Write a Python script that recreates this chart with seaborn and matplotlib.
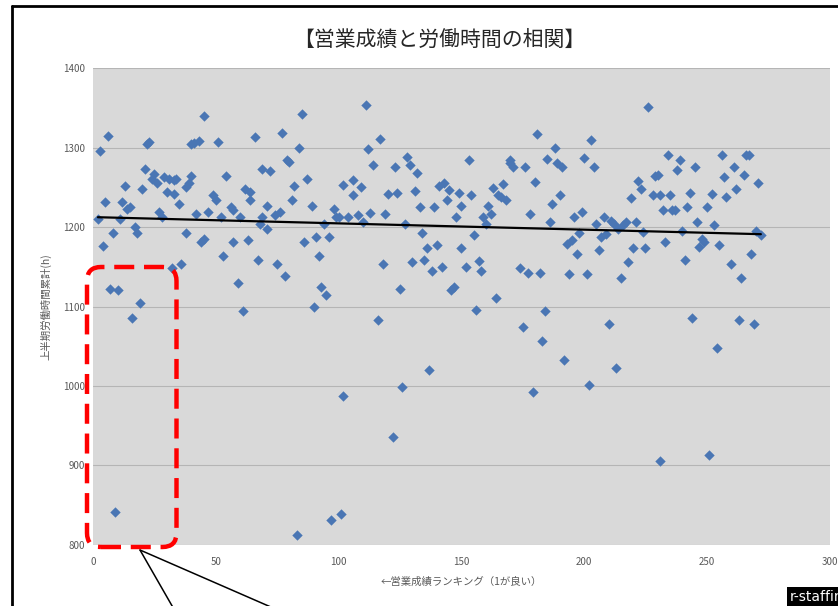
import pandas as pd
import seaborn as sns
import matplotlib.pyplot as plt
from matplotlib.patches import FancyBboxPatch
from matplotlib.lines import Line2D

# ranking (1 = best) and hours worked in the first half year
rank = [2, 3, 6, 5, 4, 8, 7, 10, 9, 11, 12, 13, 14, 15, 16, 19, 18, 17, 20, 21,
        22, 23, 24, 25, 26, 27, 28, 29, 30, 31, 33, 33, 34, 35, 32, 36, 38, 39, 38, 40,
        40, 41, 43, 45, 42, 44, 45, 47, 49, 50, 51, 52, 53, 54, 56, 57, 57, 59, 60, 61,
        62, 63, 64, 64, 66, 67, 68, 69, 69, 71, 72, 74, 75, 71,
        76, 78, 77, 79, 80, 84, 85, 82, 81, 87, 89, 86, 83, 91, 92, 93, 95, 90, 94, 96,
        97, 101, 102, 98, 99, 100, 102, 104, 106, 106, 108, 109, 110, 111, 112, 113, 114, 116, 117, 118,
        119, 120, 123, 122, 124, 125, 126, 127, 128, 129, 130, 131, 132, 133, 134, 135, 136, 137, 138, 139,
        140, 141, 142, 143, 144, 145, 146, 147, 148, 149, 150, 150,
        152, 153, 154, 155, 156, 157, 158, 159, 160, 161, 162, 163, 164, 165, 166, 167, 168, 170, 170, 171,
        174, 175, 176, 177, 178, 179, 180, 181, 182, 183, 184, 185, 186, 187, 188, 189, 190, 191, 192, 193,
        194, 195, 196, 197, 198, 199, 200, 201, 202, 203, 204, 205, 206, 207, 208, 209, 210, 211, 212, 213,
        214, 215, 216, 217, 218, 219, 220, 221, 222, 223, 224, 225,
        226, 228, 229, 230, 231, 231, 232, 233, 234, 235, 236, 237, 238, 239, 240, 241, 242, 243, 244, 245,
        246, 247, 248, 249, 250, 251, 252, 253, 254, 255, 256, 257, 258, 260, 261, 262, 263, 264, 265, 266,
        267, 268, 269, 270, 271, 272]
hours = [1210, 1296, 1314, 1231, 1176, 1192, 1122, 1121, 841, 1210, 1231, 1252, 1223, 1225, 1085, 1104, 1192, 1200, 1248, 1273,
         1305, 1307, 1261, 1267, 1255, 1219, 1213, 1263, 1244, 1261, 1242, 1259, 1261, 1229, 1148, 1153, 1250, 1255, 1192, 1264,
         1305, 1306, 1308, 1340, 1217, 1181, 1185, 1219, 1240, 1234, 1307, 1213, 1163, 1264, 1225, 1221, 1181, 1130, 1213, 1094,
         1248, 1184, 1244, 1234, 1313, 1159, 1204, 1273, 1213, 1227, 1271, 1215, 1154, 1198,
         1219, 1138, 1318, 1284, 1282, 1300, 1342, 1252, 1234, 1261, 1226, 1181, 812, 1187, 1163, 1125, 1114, 1099, 1204, 1187,
         831, 839, 988, 1223, 1213, 1213, 1253, 1213, 1240, 1259, 1215, 1250, 1206, 1353, 1298, 1218, 1278, 1083, 1311, 1153,
         1216, 1242, 1275, 936, 1243, 1122, 999, 1204, 1288, 1278, 1156, 1245, 1268, 1225, 1192, 1159, 1174, 1020, 1145, 1225,
         1178, 1252, 1150, 1255, 1234, 1246, 1121, 1125, 1212, 1243, 1226, 1173,
         1150, 1284, 1240, 1190, 1096, 1157, 1145, 1213, 1204, 1226, 1216, 1249, 1111, 1240, 1238, 1254, 1234, 1284, 1280, 1275,
         1148, 1074, 1276, 1142, 1217, 992, 1257, 1317, 1142, 1057, 1094, 1285, 1206, 1229, 1300, 1280, 1240, 1275, 1033, 1179,
         1141, 1184, 1213, 1166, 1192, 1219, 1287, 1141, 1001, 1309, 1275, 1204, 1171, 1188, 1212, 1191, 1078, 1208, 1204, 1023,
         1198, 1136, 1202, 1206, 1156, 1237, 1173, 1206, 1258, 1248, 1194, 1174,
         1351, 1240, 1264, 1265, 906, 1240, 1222, 1181, 1291, 1240, 1222, 1222, 1272, 1284, 1195, 1158, 1225, 1243, 1085, 1276,
         1206, 1175, 1185, 1181, 1225, 913, 1242, 1203, 1048, 1177, 1290, 1263, 1238, 1154, 1276, 1248, 1083, 1136, 1266, 1290,
         1291, 1166, 1078, 1195, 1255, 1190]

x_ticks = [0, 50, 100, 150, 200, 250, 300]
y_ticks = [800, 900, 1000, 1100, 1200, 1300, 1400]

df = pd.DataFrame({'rank': rank, 'hours': hours})

sns.set_style("white")
plt.rcParams['font.family'] = ['Noto Sans CJK JP', 'DejaVu Sans']

fig = plt.figure(figsize=(8.38, 6.06), dpi=100)
ax = fig.add_axes([0.111, 0.1007, 0.879, 0.787])
ax.set_facecolor('#d9d9d9')
ax.grid(axis='y', color='#b5b5b5', linewidth=0.8)
ax.grid(axis='x', visible=False)
ax.set_axisbelow(True)

sns.scatterplot(data=df, x='rank', y='hours', marker='D', s=28, color='#4a76b4',
                linewidth=0, ax=ax, zorder=3)
# linear trend line
sns.regplot(data=df, x='rank', y='hours', scatter=False, ci=None, truncate=True,
            color='black', line_kws={'linewidth': 1.6, 'zorder': 4}, ax=ax)

ax.set_xlim(0, 300)
ax.set_ylim(800, 1400)
ax.set_xticks(x_ticks)
ax.set_yticks(y_ticks)
ax.tick_params(length=0, labelsize=7, labelcolor='#595959')
ax.tick_params(axis='x', pad=9)
ax.tick_params(axis='y', pad=6)
for s in ax.spines.values():
    s.set_visible(False)

ax.set_xlabel('←営業成績ランキング（1が良い）', fontsize=7.5, color='#595959', labelpad=7)
ax.set_ylabel('上半期労働時間累計(h)', fontsize=7.5, color='#595959', labelpad=8)

fig.text(0.524, 1 - 40 / 606, '【営業成績と労働時間の相関】', ha='center', va='center',
         fontsize=15, color='#262626')

# outer frame (top and left edges visible)
fig.add_artist(Line2D([12 / 838, 12 / 838], [-0.1, 1 - 6 / 606], transform=fig.transFigure,
                      color='black', linewidth=2))
fig.add_artist(Line2D([12 / 838, 1.1], [1 - 6 / 606, 1 - 6 / 606], transform=fig.transFigure,
                      color='black', linewidth=2))

# red dashed highlight box
box = FancyBboxPatch((0.87, 0.59), 0.895, 2.80, boxstyle="round,pad=0,rounding_size=0.14",
                     transform=fig.dpi_scale_trans, fill=False, edgecolor='#ff0000',
                     linewidth=3.2, linestyle=(0, (4.5, 2.2)), clip_on=False, zorder=10)
fig.add_artist(box)

# callout lines leaving the box
fig.add_artist(Line2D([1.40, 1.75], [0.56, -0.05], transform=fig.dpi_scale_trans,
                      color='black', linewidth=1.1))
fig.add_artist(Line2D([1.40, 2.80], [0.56, -0.05], transform=fig.dpi_scale_trans,
                      color='black', linewidth=1.1))

# watermark tag, running off the right edge as in the original
fig.text(790 / 838, (606 - 597) / 606, 'r-staffing', ha='left', va='center', fontsize=10,
         color='white', family='DejaVu Sans',
         bbox=dict(facecolor='black', edgecolor='none', pad=2.5))

plt.savefig('out.png', dpi=100)
